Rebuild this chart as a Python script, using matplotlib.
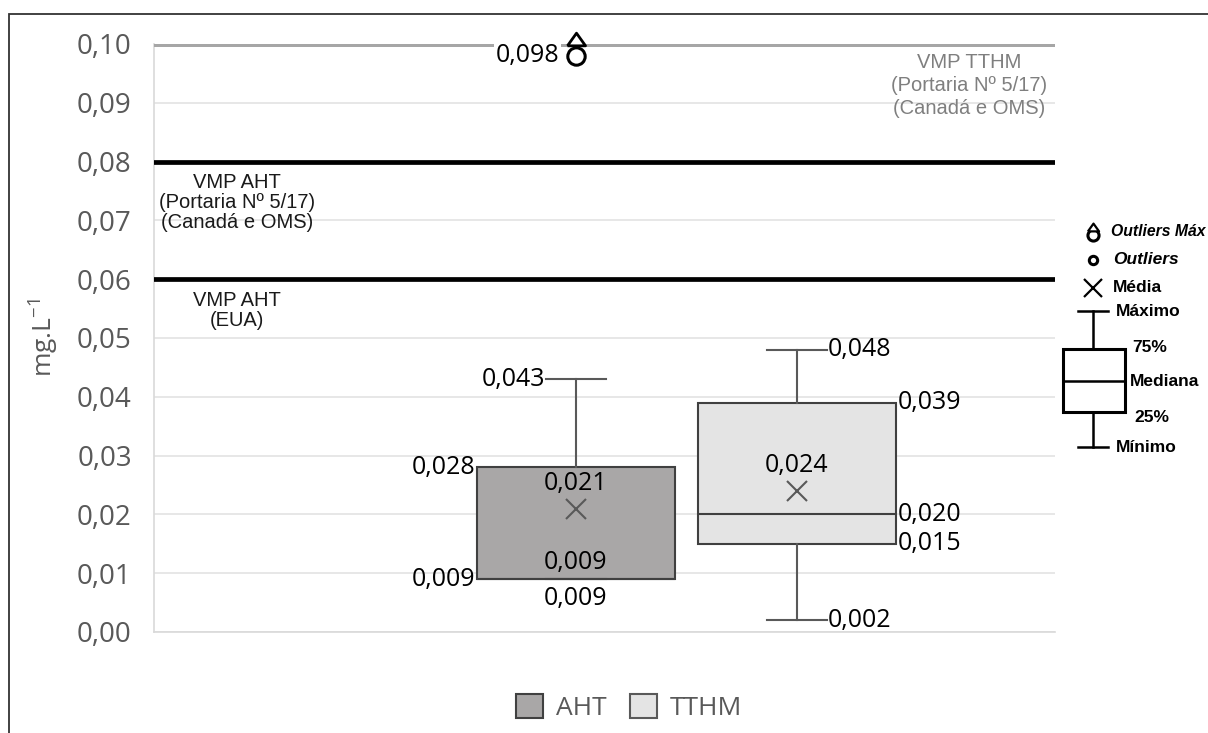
import matplotlib.pyplot as plt
import matplotlib.transforms as mtransforms
from matplotlib.patches import Patch, Rectangle

# Estatísticas dos boxplots (mg/L)
categorias = ['AHT', 'TTHM']
minimo = [0.009, 0.002]
q1 = [0.009, 0.015]
mediana = [0.009, 0.020]
q3 = [0.028, 0.039]
maximo = [0.043, 0.048]
media = [0.021, 0.024]
outliers = [[0.098], []]

# Valores máximos permitidos
vmp_tthm = 0.10
vmp_aht_portaria = 0.08
vmp_aht_eua = 0.06

cores = ['#a9a7a7', '#e4e4e4']
cinza_txt = '#595959'

# triângulo achatado para o "outlier máximo"
tri_marker = [(-1, -0.7), (1, -0.7), (0, 0.7), (-1, -0.7)]

fig = plt.figure(figsize=(12.08, 7.33), dpi=100)
ax = fig.add_axes([0.1275, 0.1378, 0.7458, 0.8022])

stats = []
for i in range(len(categorias)):
    stats.append(dict(label=categorias[i], whislo=minimo[i], q1=q1[i], med=mediana[i],
                      q3=q3[i], whishi=maximo[i], mean=media[i], fliers=outliers[i]))

pos = [1, 2]
bp = ax.bxp(stats, positions=pos, widths=0.9, capwidths=0.27, patch_artist=True,
            showmeans=True, showfliers=True,
            boxprops=dict(edgecolor='#404040', linewidth=1.5),
            medianprops=dict(color='#404040', linewidth=1.5),
            whiskerprops=dict(color=cinza_txt, linewidth=1.5),
            capprops=dict(color=cinza_txt, linewidth=1.5),
            meanprops=dict(marker='x', markersize=15, markeredgecolor=cinza_txt,
                           markeredgewidth=1.5),
            flierprops=dict(marker='o', markersize=12.5, markerfacecolor='white',
                            markeredgecolor='black', markeredgewidth=2.2))
for patch, c in zip(bp['boxes'], cores):
    patch.set_facecolor(c)
for f in bp['fliers']:
    f.set_zorder(6)
    f.set_clip_on(False)


def fmt(v):
    return f'{v:.3f}'.replace('.', ',')


tri = mtransforms.offset_copy(ax.transData, fig=fig, x=0, y=12, units='points')
for i, vals in enumerate(outliers):
    for v in vals:
        ax.plot(pos[i], v, marker=tri_marker, markersize=13, markerfacecolor='white',
                markeredgecolor='black', markeredgewidth=2.0, transform=tri,
                clip_on=False, zorder=6)
        ax.annotate(fmt(v), xy=(pos[i], v), xytext=(-12, 0),
                    textcoords='offset points', ha='right', va='center',
                    fontsize=18, family='Open Sans', color='black', zorder=5,
                    bbox=dict(facecolor='white', edgecolor='none', pad=1))

# linhas de VMP
ax.axhline(vmp_tthm, color='#a6a6a6', linewidth=3.6, zorder=3)
ax.axhline(vmp_aht_portaria, color='black', linewidth=3.4, zorder=3)
ax.axhline(vmp_aht_eua, color='black', linewidth=3.4, zorder=3)

blend = mtransforms.blended_transform_factory(ax.transAxes, ax.transData)
nota = dict(transform=blend, ha='center', va='top', fontsize=14.5, family='Liberation Sans')
ax.text(0.905, vmp_tthm - 0.0016, 'VMP TTHM\n(Portaria Nº 5/17)\n(Canadá e OMS)',
        color='#7f7f7f', linespacing=1.25, **nota)
ax.text(0.092, vmp_aht_portaria - 0.0020, 'VMP AHT\n(Portaria Nº 5/17)\n(Canadá e OMS)',
        color='#1a1a1a', linespacing=1.05, **nota)
ax.text(0.092, vmp_aht_eua - 0.0020, 'VMP AHT\n(EUA)', color='#1a1a1a',
        linespacing=1.05, **nota)

rot = dict(fontsize=18, family='Open Sans', color='black')
cap = 0.135
half = 0.45
# AHT
ax.text(pos[0] - cap - 0.005, maximo[0], fmt(maximo[0]), ha='right', va='center', **rot)
ax.text(pos[0] - half - 0.005, q3[0], fmt(q3[0]), ha='right', va='center', **rot)
ax.text(pos[0] - half - 0.005, q1[0], fmt(q1[0]), ha='right', va='center', **rot)
ax.annotate(fmt(media[0]), xy=(pos[0], media[0]), xytext=(0, 18), textcoords='offset points',
            ha='center', va='center', **rot)
ax.annotate(fmt(mediana[0]), xy=(pos[0], mediana[0]), xytext=(0, 12), textcoords='offset points',
            ha='center', va='center', **rot)
ax.annotate(fmt(minimo[0]), xy=(pos[0], minimo[0]), xytext=(0, -14), textcoords='offset points',
            ha='center', va='center', **rot)
# TTHM
ax.text(pos[1] + cap + 0.005, maximo[1], fmt(maximo[1]), ha='left', va='center', **rot)
ax.text(pos[1] + half + 0.005, q3[1], fmt(q3[1]), ha='left', va='center', **rot)
ax.text(pos[1] + half + 0.005, mediana[1], fmt(mediana[1]), ha='left', va='center', **rot)
ax.text(pos[1] + half + 0.005, q1[1], fmt(q1[1]), ha='left', va='center', **rot)
ax.text(pos[1] + cap + 0.005, minimo[1], fmt(minimo[1]), ha='left', va='center', **rot)
ax.annotate(fmt(media[1]), xy=(pos[1], media[1]), xytext=(0, 18), textcoords='offset points',
            ha='center', va='center', **rot)

# eixos
ax.set_xlim(-0.909, 3.167)
ax.set_ylim(0, 0.10)
ax.set_yticks([i / 100 for i in range(11)])
ax.set_yticklabels([f'{i / 100:.2f}'.replace('.', ',') for i in range(11)],
                   fontsize=20, family='Open Sans', color=cinza_txt)
ax.set_xticks([])
ax.tick_params(axis='y', length=0, pad=16)
ax.grid(axis='y', color='#e3e3e3', linewidth=1.2, zorder=0)
ax.set_axisbelow(True)
for s in ['top', 'right']:
    ax.spines[s].set_visible(False)
for s in ['left', 'bottom']:
    ax.spines[s].set_color('#d9d9d9')
    ax.spines[s].set_linewidth(1.2)
ax.set_ylabel('mg.L$^{\\mathregular{-1}}$', fontsize=19, family='Open Sans',
              color=cinza_txt, labelpad=12)

handles = [Patch(facecolor=cores[0], edgecolor='#404040', linewidth=1.5),
           Patch(facecolor=cores[1], edgecolor='#595959', linewidth=1.5)]
fig.legend(handles, categorias, loc='center', bbox_to_anchor=(0.521, 0.035), ncol=2,
           frameon=False, handlelength=1.0, handleheight=1.0, handletextpad=0.5,
           columnspacing=0.9, prop={'family': 'Open Sans', 'size': 19},
           labelcolor=cinza_txt)

# chave do boxplot à direita (em pixels da figura)
kx = fig.add_axes([1040 / 1208, 1 - 470 / 733, 168 / 1208, 250 / 733])
kx.set_xlim(1040, 1208)
kx.set_ylim(470, 220)
kx.axis('off')
cx = 1093
kx.plot(cx, 235, marker='o', markersize=8, mfc='white', mec='black', mew=2.2, clip_on=False)
kx.plot(cx, 227, marker=tri_marker, markersize=8, mfc='white', mec='black', mew=1.6,
        clip_on=False)
kx.plot(cx, 260, marker='o', markersize=6, mfc='white', mec='black', mew=2.2)
kx.plot(cx, 288, marker='x', markersize=13, mec='black', mew=1.6)
kx.plot([1078, 1108], [311, 311], color='black', lw=1.8)
kx.plot([cx, cx], [311, 349], color='black', lw=1.8)
kx.add_patch(Rectangle((1063, 349), 62, 63, fill=False, ec='black', lw=2.2))
kx.plot([1063, 1125], [381, 381], color='black', lw=1.8)
kx.plot([cx, cx], [412, 447], color='black', lw=1.8)
kx.plot([1078, 1108], [447, 447], color='black', lw=1.8)
kt = dict(family='Liberation Sans', fontweight='bold', va='center', color='black',
          clip_on=False)
kx.text(1111, 232, 'Outliers Máx', style='italic', fontsize=11.3, **kt)
kx.text(1113, 260, 'Outliers', style='italic', fontsize=12.5, **kt)
kx.text(1113, 288, 'Média', fontsize=12.5, **kt)
kx.text(1116, 311, 'Máximo', fontsize=12.5, **kt)
kx.text(1132, 348, '75%', fontsize=12.5, **kt)
kx.text(1130, 381, 'Mediana', fontsize=12.5, **kt)
kx.text(1134, 417, '25%', fontsize=12.5, **kt)
kx.text(1116, 447, 'Mínimo', fontsize=12.5, **kt)

# moldura da figura
fig.add_artist(Rectangle((9 / 1208, -0.1), 1.2, 1.1 - 14 / 733, transform=fig.transFigure,
                         fill=False, edgecolor='#333333', linewidth=1.3))

fig.savefig('out.png', dpi=100)
